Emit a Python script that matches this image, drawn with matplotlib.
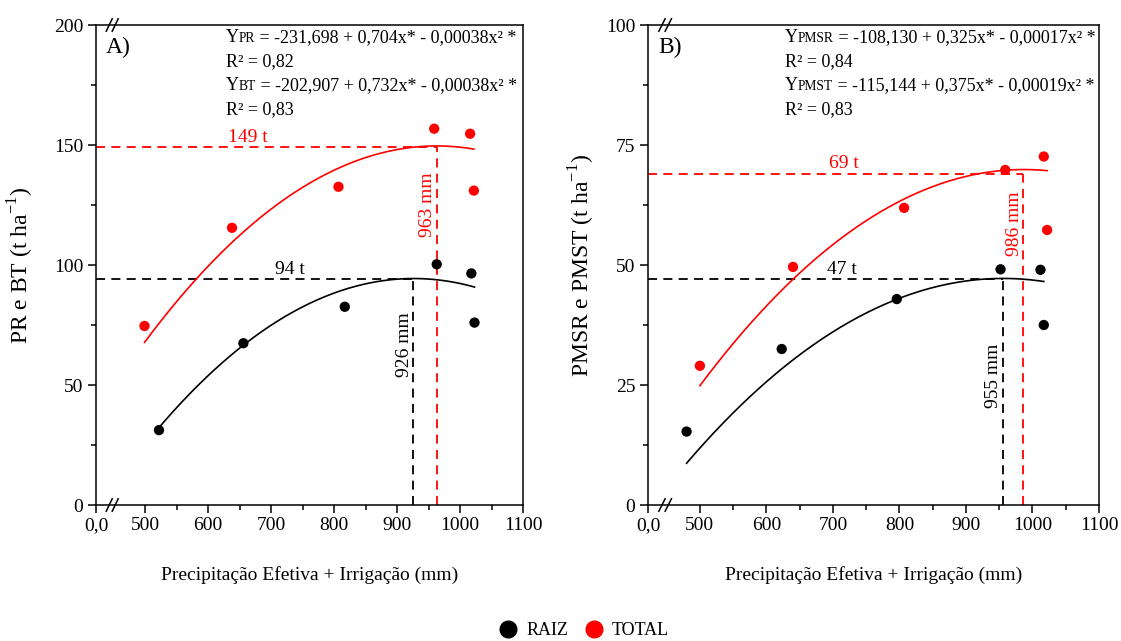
import numpy as np
import matplotlib
matplotlib.use("Agg")
import matplotlib.pyplot as plt
from matplotlib.lines import Line2D
from matplotlib.offsetbox import TextArea, HPacker, AnnotationBbox

plt.rcParams['font.family'] = ['Liberation Serif', 'DejaVu Serif']
plt.rcParams['mathtext.fontset'] = 'custom'
plt.rcParams['mathtext.rm'] = 'Liberation Serif'
plt.rcParams['axes.linewidth'] = 1.1

# --- A) produtividade de raiz (PR) e biomassa total (BT)
x_pr = [522, 656, 817, 963, 1018, 1023]
y_pr = [31.2, 67.4, 82.6, 100.3, 96.5, 76.0]
x_bt = [499, 638, 807, 959, 1016, 1022]
y_bt = [74.6, 115.5, 132.6, 156.8, 154.7, 131.0]
coef_pr = (-231.698, 0.704, -0.00038)
coef_bt = (-202.907, 0.732, -0.00038)
max_pr = (926, 94)
max_bt = (963, 149)

# --- B) massa seca de raiz (PMSR) e total (PMST)
x_pmsr = [480, 623, 796, 952, 1012, 1017]
y_pmsr = [15.3, 32.5, 42.9, 49.1, 49.0, 37.5]
x_pmst = [500, 640, 807, 959, 1017, 1022]
y_pmst = [29.0, 49.6, 61.9, 69.8, 72.6, 57.3]
coef_pmsr = (-108.130, 0.325, -0.00017)
coef_pmst = (-115.144, 0.375, -0.00019)
max_pmsr = (955, 47)
max_pmst = (986, 69)

x_ticks = [500, 600, 700, 800, 900, 1000, 1100]
x_minor = [550, 650, 750, 850, 950, 1050]
x0 = 422

FS = 14
FS_EQ = 13


def quad(c, x):
    return c[0] + c[1] * x + c[2] * x ** 2


def equation(ax, y, sub, rest):
    parts = [TextArea("Y", textprops=dict(fontsize=FS_EQ)),
             TextArea(sub, textprops=dict(fontsize=FS_EQ * 0.75)),
             TextArea(rest, textprops=dict(fontsize=FS_EQ))]
    box = HPacker(children=parts, align="baseline", pad=0, sep=0)
    ab = AnnotationBbox(box, (0.304, y), xycoords='axes fraction',
                        box_alignment=(0, 0.5), frameon=False, pad=0)
    ax.add_artist(ab)


def plain(ax, y, s):
    ax.text(0.304, y, s, transform=ax.transAxes, fontsize=FS_EQ, va='center', ha='left')


def panel(ax, ymax, yminor, series, letter, ylabel, eqs, r2s):
    for xs, ys, c, col, (xm, ym), lab_t, lab_mm in series:
        xx = np.linspace(min(xs), max(xs), 200)
        ax.plot(xx, quad(c, xx), color=col, lw=1.2, zorder=2)
        ax.scatter(xs, ys, s=55, color=col, zorder=3, edgecolors='none')
        ax.plot([x0, xm], [ym, ym], ls=(0, (5, 3.5)), color=col, lw=1.3, zorder=1)
        ax.plot([xm, xm], [0, ym], ls=(0, (5, 3.5)), color=col, lw=1.3, zorder=1)
        ax.text(lab_t, ym + ymax * 0.003, "%d t" % ym, color=col, fontsize=FS,
                ha='center', va='bottom')
        ax.text(xm - 1, lab_mm, "%d mm" % xm, color=col, fontsize=FS, rotation=90,
                ha='right', va='center')

    ax.set_xlim(x0, 1100)
    ax.set_ylim(0, ymax)
    ax.set_xticks([x0] + x_ticks)
    ax.set_xticklabels(["0,0"] + [str(t) for t in x_ticks])
    ax.set_xticks(x_minor, minor=True)
    ax.set_yticks(np.linspace(0, ymax, 5))
    ax.set_yticks(np.arange(yminor, ymax, 2 * yminor), minor=True)
    ax.tick_params(direction='out', length=6, width=1.1, labelsize=FS, pad=3)
    ax.tick_params(which='minor', direction='out', length=3.5, width=1.1)

    ax.set_xlabel("Precipitação Efetiva + Irrigação (mm)", fontsize=14)
    ax.xaxis.set_label_coords(0.5, -0.128)
    ax.set_ylabel(ylabel, fontsize=17)

    ax.text(0.023, 0.953, letter, transform=ax.transAxes, fontsize=17, va='center')
    for (y, sub, rest), (yr, r2) in zip(eqs, r2s):
        equation(ax, y, sub, rest)
        plain(ax, yr, r2)

    # marcas de quebra do eixo x
    for yb in (0, 1):
        for dx in (0.0, 0.014):
            ax.plot([0.024 + dx, 0.038 + dx], [yb - 0.013, yb + 0.013],
                    transform=ax.transAxes, color='black', lw=1.1, clip_on=False)


fig = plt.figure(figsize=(11.21, 6.41), dpi=100)
ax1 = fig.add_axes([96 / 1121, 136 / 641, 427 / 1121, 480 / 641])
ax2 = fig.add_axes([648 / 1121, 136 / 641, 451 / 1121, 480 / 641])

panel(ax1, 200, 25,
      [(x_pr, y_pr, coef_pr, 'black', max_pr, 730, 67),
       (x_bt, y_bt, coef_bt, 'red', max_bt, 663, 125)],
      "A)", r"PR e BT (t ha$^{-1}$)",
      [(0.973, "PR", " = -231,698 + 0,704x* - 0,00038x² *"),
       (0.873, "BT", " = -202,907 + 0,732x* - 0,00038x² *")],
      [(0.923, "R² = 0,82"), (0.823, "R² = 0,83")])
ax1.yaxis.set_label_coords(-0.14, 0.5)

panel(ax2, 100, 12.5,
      [(x_pmsr, y_pmsr, coef_pmsr, 'black', max_pmsr, 713, 27),
       (x_pmst, y_pmst, coef_pmst, 'red', max_pmst, 716, 58.7)],
      "B)", r"PMSR e PMST (t ha$^{-1}$)",
      [(0.973, "PMSR", " = -108,130 + 0,325x* - 0,00017x² *"),
       (0.873, "PMST", " = -115,144 + 0,375x* - 0,00019x² *")],
      [(0.923, "R² = 0,84"), (0.823, "R² = 0,83")])
ax2.yaxis.set_label_coords(-0.114, 0.5)

handles = [Line2D([], [], ls='none', marker='o', ms=12, color='black', label='RAIZ'),
           Line2D([], [], ls='none', marker='o', ms=12, color='red', label='TOTAL')]
fig.legend(handles=handles, loc='center', bbox_to_anchor=(0.521, 0.016), ncol=2,
           frameon=False, fontsize=13, handlelength=1.0, handletextpad=0.5,
           columnspacing=0.9)

fig.savefig("out.png", dpi=100)
